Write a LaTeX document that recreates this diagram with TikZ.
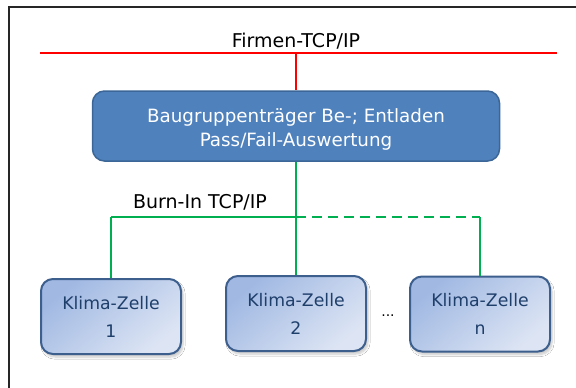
\documentclass[tikz,border=0pt]{standalone}
\usepackage{fontspec}
\setmainfont{DejaVu Sans}
\usetikzlibrary{shadows.blur}
\definecolor{netred}{HTML}{FF0000}
\definecolor{netgreen}{HTML}{00B050}
\definecolor{mainfill}{HTML}{4F81BD}
\definecolor{mainborder}{HTML}{3B6697}
\definecolor{celltop}{HTML}{A0B8E2}
\definecolor{cellbot}{HTML}{DDE5F4}
\definecolor{cellborder}{HTML}{3D5F8E}
\definecolor{celltext}{HTML}{1F3F6B}
\tikzset{
  mainbox/.style={draw=mainborder, line width=1.5pt, fill=mainfill, rounded corners=12pt,
    minimum width=407pt, minimum height=70pt, inner sep=0pt},
  maintext/.style={inner sep=0pt, align=center, text=white,
    font=\fontsize{18.3}{24}\selectfont},
  cellbox/.style={draw=cellborder, line width=2pt, rounded corners=12pt,
    top color=celltop, bottom color=cellbot, shading angle=40,
    minimum width=140pt, minimum height=75pt, inner sep=0pt, align=center, text=celltext,
    font=\fontsize{17.3}{28}\selectfont,
    blur shadow={shadow xshift=2pt, shadow yshift=-3pt, shadow blur steps=6, shadow opacity=22}},
  rednet/.style={draw=netred, line width=2pt},
  greennet/.style={draw=netgreen, line width=2pt},
  lbl/.style={inner sep=0pt, font=\fontsize{19}{22}\selectfont, anchor=base},
  frameline/.style={draw=black!85, line width=1.5pt}
}
\begin{document}
\begin{tikzpicture}[x=1pt,y=-1pt]
\useasboundingbox (0,0) rectangle (576,388);
\fill[white] (0,0) rectangle (576,388);
\draw[frameline] (9,388) -- (9,7) -- (576,7);

\node[lbl] (firmen) at (296,47) {Firmen-TCP/IP};
\coordinate (rl) at (40,53);
\coordinate (rr) at (557,53);
\coordinate (rm) at (296,53);

\node[mainbox] (main) at (296,126) {};
\node[maintext] (mainlbl) at (296,129) {Baugruppenträger Be-; Entladen\\Pass/Fail-Auswertung};

\node[lbl] (burn) at (200,208) {Burn-In TCP/IP};
\coordinate (gl) at (111,217);
\coordinate (gm) at (296,217);
\coordinate (gr) at (480,217);

\node[cellbox] (c1) at (111,316.5) {Klima-Zelle\\1};
\node[cellbox] (c2) at (296,313.5) {Klima-Zelle\\2};
\node[cellbox] (c3) at (480,314) {Klima-Zelle\\n};
\node[inner sep=0pt, font=\fontsize{14}{15}\selectfont, anchor=base] (dots) at (388,316) {...};

\draw[rednet] (rl) -- (rr);
\draw[rednet] (rm) -- (main.north);

\draw[greennet] (main.south) -- (c2.north);
\draw[greennet] (gl) -- (gm);
\draw[greennet, dash pattern=on 10pt off 6pt] (gm) -- (gr);
\draw[greennet] (gl) -- (c1.north);
\draw[greennet] (gr) -- (c3.north);
\end{tikzpicture}
\end{document}
